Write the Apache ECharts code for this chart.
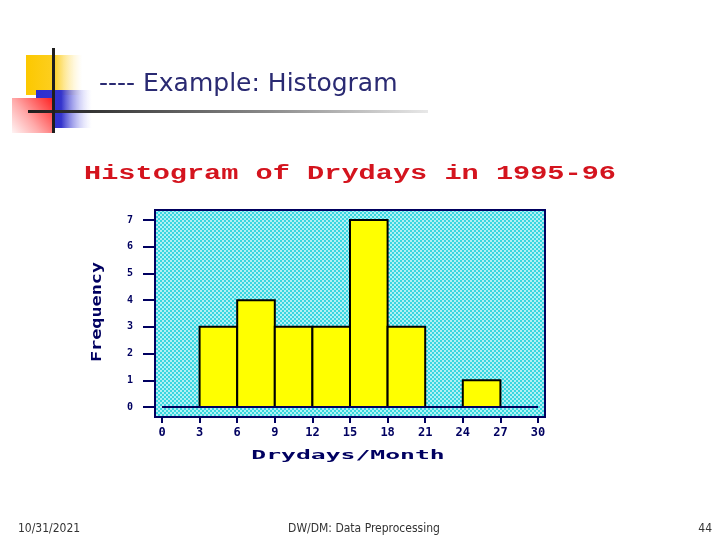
<!DOCTYPE html>
<html lang="en">
    <head>
        <meta charset="UTF-8">
        <title>Histogram of Drydays</title>
        <style>
            *{
                margin: 0;
                padding: 0;
            }
            body{
                background: #ffffff;
            }
            #chart{
                width: 720px;
                height: 540px;
            }
        </style>
        <script src="https://cdn.jsdelivr.net/npm/echarts@6/dist/echarts.min.js"></script>
    </head>
    <body>
        <div id="chart"></div>
        <script>
            // bins of drydays per month
            var binStart = [0, 3, 6, 9, 12, 15, 18, 21, 24, 27];
            var binEnd = [3, 6, 9, 12, 15, 18, 21, 24, 27, 30];
            var frequency = [0, 3, 4, 3, 3, 7, 3, 0, 1, 0];
            var xTicks = [0, 3, 6, 9, 12, 15, 18, 21, 24, 27, 30];
            var yTicks = [0, 1, 2, 3, 4, 5, 6, 7];

            var navy = '#000060';

            // dithered cyan background, like the old plot
            function makePattern(){
                var c = document.createElement('canvas');
                c.width = 4;
                c.height = 4;
                var ctx = c.getContext('2d');
                ctx.fillStyle = '#b0f0f4';
                ctx.fillRect(0, 0, 4, 4);
                ctx.fillStyle = '#38d6e0';
                ctx.fillRect(0, 0, 2, 2);
                ctx.fillRect(2, 2, 2, 2);
                return c;
            }

            var bins = [];
            for (var i = 0; i < frequency.length; i++) {
                bins.push([binStart[i], binEnd[i], frequency[i]]);
            }

            var chart = echarts.init(document.getElementById('chart'));
            var option = {
                animation: false,
                grid: {
                    left: 162,
                    right: 182,
                    top: 220,
                    bottom: 133
                },
                xAxis: {
                    type: 'value',
                    min: xTicks[0],
                    max: xTicks[xTicks.length - 1],
                    interval: 3,
                    offset: 10,
                    axisLine: { show: false, onZero: false },
                    axisTick: {
                        length: 6,
                        lineStyle: { color: navy, width: 2 }
                    },
                    axisLabel: {
                        margin: 10,
                        color: navy,
                        fontFamily: 'DejaVu Sans Mono',
                        fontWeight: 'bold',
                        fontSize: 12
                    },
                    splitLine: { show: false }
                },
                yAxis: {
                    type: 'value',
                    min: yTicks[0],
                    max: yTicks[yTicks.length - 1],
                    interval: 1,
                    offset: 7,
                    axisLine: { show: false, onZero: false },
                    axisTick: {
                        length: 12,
                        lineStyle: { color: navy, width: 2 }
                    },
                    axisLabel: {
                        margin: 22,
                        color: navy,
                        fontFamily: 'DejaVu Sans Mono',
                        fontWeight: 'bold',
                        fontSize: 10
                    },
                    splitLine: { show: false }
                },
                series: [{
                    type: 'custom',
                    z: 3,
                    data: bins,
                    renderItem: function (params, api) {
                        var count = api.value(2);
                        if (!count) return null;
                        var p0 = api.coord([api.value(0), count]);
                        var p1 = api.coord([api.value(1), 0]);
                        return {
                            type: 'rect',
                            shape: { x: p0[0], y: p0[1], width: p1[0] - p0[0], height: p1[1] - p0[1] },
                            style: { fill: '#ffff00', stroke: '#000000', lineWidth: 2 }
                        };
                    },
                    markLine: {
                        silent: true,
                        symbol: 'none',
                        label: { show: false },
                        lineStyle: { color: navy, width: 2, type: 'solid' },
                        data: [{ yAxis: 0 }]
                    }
                }],
                graphic: [
                    // slide decoration
                    {
                        type: 'rect', z: -20,
                        shape: { x: 26, y: 55, width: 56, height: 40 },
                        style: { fill: new echarts.graphic.LinearGradient(0, 0, 1, 0, [
                            { offset: 0, color: '#fcc800' },
                            { offset: 0.5, color: '#fdcf20' },
                            { offset: 1, color: 'rgba(255,235,170,0)' }
                        ]) }
                    },
                    {
                        type: 'rect', z: -19,
                        shape: { x: 36, y: 90, width: 56, height: 38 },
                        style: { fill: new echarts.graphic.LinearGradient(0, 0, 1, 0, [
                            { offset: 0, color: '#2e2ed0' },
                            { offset: 0.45, color: '#3434cc' },
                            { offset: 1, color: 'rgba(200,200,255,0)' }
                        ]) }
                    },
                    {
                        type: 'rect', z: -18,
                        shape: { x: 12, y: 98, width: 43, height: 35 },
                        style: { fill: new echarts.graphic.LinearGradient(1, 0, 0, 1, [
                            { offset: 0, color: '#ff1a1a' },
                            { offset: 0.6, color: '#ffaaaa' },
                            { offset: 1, color: '#fff4f4' }
                        ]) }
                    },
                    {
                        type: 'rect', z: -17,
                        shape: { x: 28, y: 110, width: 400, height: 3 },
                        style: { fill: new echarts.graphic.LinearGradient(0, 0, 1, 0, [
                            { offset: 0, color: '#1e1e1e' },
                            { offset: 0.15, color: '#333333' },
                            { offset: 0.6, color: '#8a8a8a' },
                            { offset: 1, color: '#e8e8e8' }
                        ]) }
                    },
                    {
                        type: 'rect', z: -16,
                        shape: { x: 52, y: 48, width: 3, height: 85 },
                        style: { fill: '#1e1e1e' }
                    },
                    {
                        type: 'text', z: 5,
                        style: {
                            text: '---- Example: Histogram',
                            x: 99, y: 84,
                            verticalAlign: 'middle',
                            fill: '#2a2a72',
                            font: '25px "DejaVu Sans"'
                        }
                    },
                    // plot panel
                    {
                        type: 'rect', z: -10,
                        shape: { x: 155, y: 210, width: 390, height: 207 },
                        style: {
                            fill: { image: makePattern(), repeat: 'repeat' },
                            stroke: navy,
                            lineWidth: 2
                        }
                    },
                    {
                        type: 'text', z: 5,
                        x: 350, y: 174,
                        scaleX: 1.43,
                        style: {
                            text: 'Histogram of Drydays in 1995-96',
                            align: 'center',
                            verticalAlign: 'middle',
                            fill: '#d4141e',
                            font: 'bold 20px "Liberation Mono"'
                        }
                    },
                    {
                        type: 'text', z: 5,
                        x: 97, y: 312,
                        rotation: Math.PI / 2,
                        scaleX: 1.32,
                        style: {
                            text: 'Frequency',
                            align: 'center',
                            verticalAlign: 'middle',
                            fill: navy,
                            font: 'bold 14px "DejaVu Sans Mono"'
                        }
                    },
                    {
                        type: 'text', z: 5,
                        x: 348, y: 456,
                        scaleX: 1.9,
                        style: {
                            text: 'Drydays/Month',
                            align: 'center',
                            verticalAlign: 'middle',
                            fill: navy,
                            font: 'bold 13px "DejaVu Sans Mono"'
                        }
                    },
                    // footer
                    {
                        type: 'text', z: 5,
                        style: {
                            text: '10/31/2021', x: 18, y: 529,
                            verticalAlign: 'middle', fill: '#333333',
                            font: '12px "DejaVu Sans Condensed"'
                        }
                    },
                    {
                        type: 'text', z: 5,
                        style: {
                            text: 'DW/DM: Data Preprocessing', x: 364, y: 529,
                            align: 'center', verticalAlign: 'middle', fill: '#333333',
                            font: '12px "DejaVu Sans Condensed"'
                        }
                    },
                    {
                        type: 'text', z: 5,
                        style: {
                            text: '44', x: 712, y: 529,
                            align: 'right', verticalAlign: 'middle', fill: '#333333',
                            font: '12px "DejaVu Sans Condensed"'
                        }
                    }
                ]
            };
            chart.setOption(option);
        </script>
    </body>
</html>
